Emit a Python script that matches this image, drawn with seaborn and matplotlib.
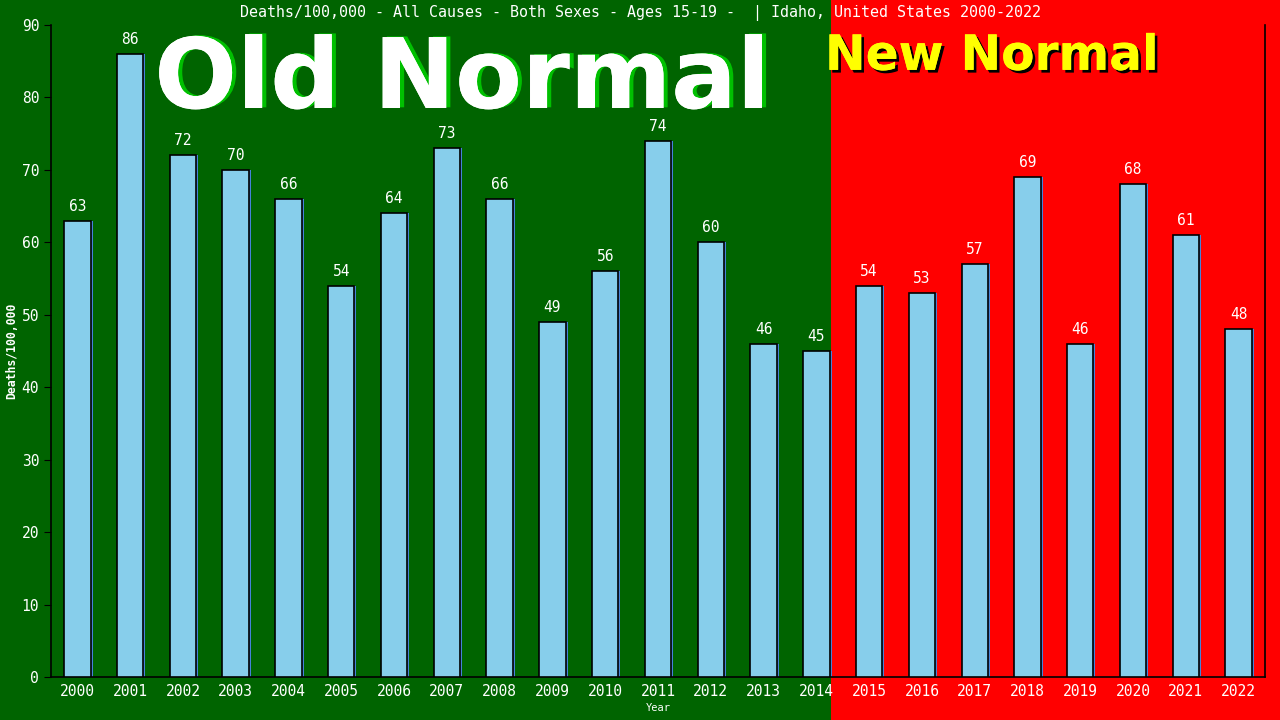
import matplotlib
matplotlib.use("Agg")
import matplotlib.pyplot as plt
import matplotlib.patches as mpatches
import matplotlib.transforms as mtransforms
import matplotlib.patheffects as pe
import pandas as pd
import seaborn as sns

years = [str(y) for y in range(2000, 2023)]
deaths = [63, 86, 72, 70, 66, 54, 64, 73, 66, 49, 56, 74, 60, 46, 45,
          54, 53, 57, 69, 46, 68, 61, 48]
title = "Deaths/100,000 - All Causes - Both Sexes - Ages 15-19 -  | Idaho, United States 2000-2022"
split_year = "2014"

df = pd.DataFrame({"Year": years, "Deaths": deaths})

green = "#006400"
red = "#ff0000"
mono = "DejaVu Sans Mono"

sns.set_style("ticks")
plt.rcParams["font.family"] = [mono, "DejaVu Sans"]

fig = plt.figure(figsize=(12.8, 7.2), dpi=100)
fig.patch.set_facecolor(green)
ax = fig.add_axes([0.0398, 0.0597, 0.9485, 0.9056])
ax.set_facecolor("none")

bar_w = 0.5
sns.barplot(data=df, x="Year", y="Deaths", color="#87ceeb", saturation=1,
            width=bar_w, edgecolor="black", linewidth=1.2, ax=ax, zorder=3)
ax.set_xlim(-0.5, len(years) - 0.5)
ax.set_ylim(0, 90)
ax.set_yticks(range(0, 91, 10))

# blue shadow on the right edge of each bar
shadow = mtransforms.offset_copy(ax.transData, fig=fig, x=2, y=0, units="dots")
for p in ax.patches[:]:
    r = mpatches.Rectangle(p.get_xy(), p.get_width(), p.get_height(),
                           transform=shadow, facecolor="#4682d8", edgecolor="none", zorder=2)
    ax.add_patch(r)

# red "new normal" region, to the right of the split bar
fig.canvas.draw()
split_x = years.index(split_year) + bar_w / 2 + 0.02
xfig = fig.transFigure.inverted().transform(ax.transData.transform((split_x, 0)))[0]
fig.patches.append(mpatches.Rectangle((xfig, 0), 1 - xfig, 1, transform=fig.transFigure,
                                      facecolor=red, edgecolor="none", zorder=-1))

for i, v in enumerate(deaths):
    ax.annotate(str(v), (i, v), xytext=(0, 5), textcoords="offset points",
                ha="center", va="bottom", color="white", fontsize=10.5, family=mono, zorder=5)

for s in ["left", "bottom", "right"]:
    ax.spines[s].set_color("black")
    ax.spines[s].set_linewidth(1.2)
ax.spines["top"].set_visible(False)
ax.tick_params(colors="black", labelcolor="white", labelsize=10.5, length=5)
ax.tick_params(axis="x", length=0, pad=5)

ax.set_xlabel("Year", color="white", fontsize=7.5, family=mono, labelpad=3)
ax.set_ylabel("Deaths/100,000", color="white", fontsize=8.3, family=mono, fontweight="bold")
ax.yaxis.set_label_coords(-0.027, 0.5)

fig.text(0.5, 0.982, title, ha="center", va="center", color="white", fontsize=10.8, family=mono)

fig.text(0.361, 0.85, "Old Normal", ha="center", va="baseline", color="white",
         fontsize=70, fontweight="bold", family="DejaVu Sans",
         path_effects=[pe.withSimplePatchShadow(offset=(3, 0.5), shadow_rgbFace="#00c000", alpha=1),
                       pe.Normal()])
fig.text(0.775, 0.903, "New Normal", ha="center", va="baseline", color="yellow",
         fontsize=35, fontweight="bold", family="DejaVu Sans",
         path_effects=[pe.withSimplePatchShadow(offset=(2, -2), shadow_rgbFace="black", alpha=1),
                       pe.Normal()])

fig.savefig("out.png", dpi=100, facecolor=fig.get_facecolor())
